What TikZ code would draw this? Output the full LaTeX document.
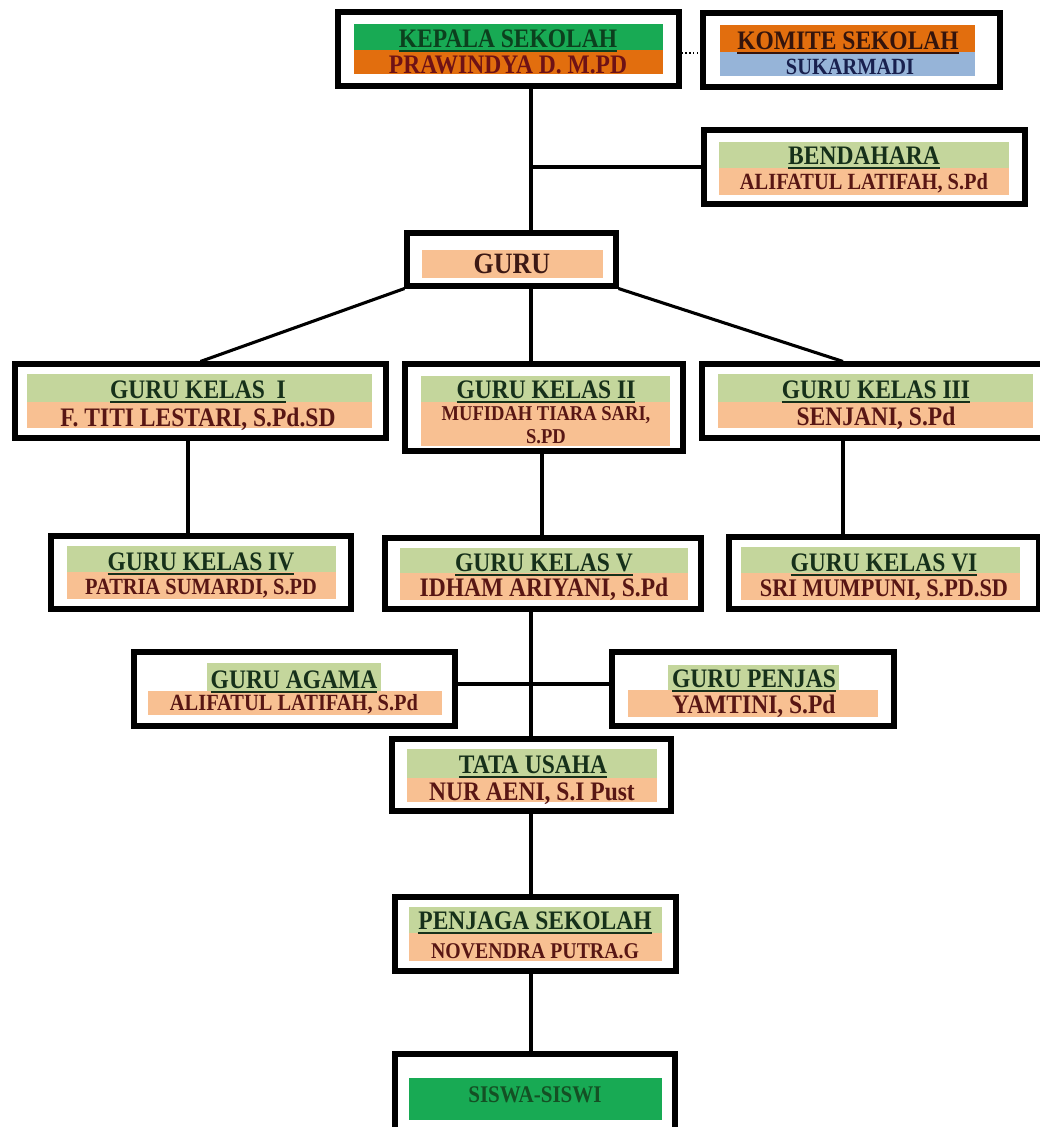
\documentclass[tikz,border=0pt]{standalone}
\usepackage{fontspec}
\setmainfont{Liberation Serif}[FakeStretch=0.88]
\usetikzlibrary{fit}

\definecolor{hijau}{RGB}{24,170,84}
\definecolor{oranye}{RGB}{226,110,14}
\definecolor{biru}{RGB}{150,180,216}
\definecolor{hijaumuda}{RGB}{196,214,156}
\definecolor{krem}{RGB}{248,192,146}
\definecolor{teksjudul}{RGB}{22,48,26}
\definecolor{teksnama}{RGB}{88,22,20}
\definecolor{teksbiru}{RGB}{24,32,78}

\newcommand{\garisbawah}[1]{\setbox0\hbox{#1}\rlap{\rule[-3.4pt]{\wd0}{1.5pt}}\box0}

\tikzset{
  kotak/.style={draw=black, line width=3.6pt, fill=white, inner sep=0pt},
  garis/.style={line width=2.2pt},
  judul/.style={anchor=base, inner sep=0pt, text=teksjudul,
    font=\fontsize{19}{20}\selectfont\bfseries},
  nama/.style={anchor=base, inner sep=0pt, text=teksnama,
    font=\fontsize{19}{20}\selectfont\bfseries},
  kecil/.style={font=\fontsize{16.5}{17}\selectfont\bfseries},
}

\begin{document}
\begin{tikzpicture}[x=0.025cm, y=-0.025cm]

    \useasboundingbox (0,0) rectangle (1040,1127);

    % kotak
    \node[kotak, fit={(338,12) (679,86)}] (kepala) {};
    \node[kotak, fit={(703,13) (1000,87)}] (komite) {};
    \node[kotak, fit={(704,130) (1025,204)}] (bendahara) {};
    \node[kotak, fit={(407,233) (616,286)}] (guru) {};
    \node[kotak, fit={(15,364) (386,438)}] (kelas1) {};
    \node[kotak, fit={(405,364) (683,451)}] (kelas2) {};
    \node[kotak, fit={(702,364) (1052,438)}] (kelas3) {};
    \node[kotak, fit={(51,536) (351,609)}] (kelas4) {};
    \node[kotak, fit={(385,538) (701,609)}] (kelas5) {};
    \node[kotak, fit={(729,537) (1039,609)}] (kelas6) {};
    \node[kotak, fit={(134,652) (455,726)}] (agama) {};
    \node[kotak, fit={(612,652) (894,726)}] (penjas) {};
    \node[kotak, fit={(392,739) (671,811)}] (tata) {};
    \node[kotak, fit={(395,897) (676,971)}] (penjaga) {};
    \node[kotak, fit={(395,1054) (675,1145)}] (siswa) {};

    % pita warna
    \fill[hijau] (354,24) rectangle (663,50);
    \fill[oranye] (354,50) rectangle (663,74);
    \fill[oranye] (720,25) rectangle (975,52);
    \fill[biru] (720,52) rectangle (975,76);
    \fill[hijaumuda] (719,142) rectangle (1009,168);
    \fill[krem] (719,168) rectangle (1009,195);
    \fill[krem] (422,250) rectangle (603,278);
    \fill[hijaumuda] (27,374) rectangle (372,402);
    \fill[krem] (27,402) rectangle (372,428);
    \fill[hijaumuda] (421,376) rectangle (670,402);
    \fill[krem] (421,402) rectangle (670,446);
    \fill[hijaumuda] (718,374) rectangle (1033,402);
    \fill[krem] (718,402) rectangle (1033,428);
    \fill[hijaumuda] (67,546) rectangle (336,572);
    \fill[krem] (67,572) rectangle (336,599);
    \fill[hijaumuda] (400,548) rectangle (688,573);
    \fill[krem] (400,573) rectangle (688,600);
    \fill[hijaumuda] (741,547) rectangle (1020,573);
    \fill[krem] (741,573) rectangle (1020,600);
    \fill[hijaumuda] (207,663) rectangle (381,691);
    \fill[krem] (148,691) rectangle (442,715);
    \fill[hijaumuda] (668,665) rectangle (839,690);
    \fill[krem] (628,690) rectangle (878,717);
    \fill[hijaumuda] (407,749) rectangle (657,778);
    \fill[krem] (407,778) rectangle (657,802);
    \fill[hijaumuda] (409,907) rectangle (662,933);
    \fill[krem] (409,933) rectangle (662,961);
    \fill[hijau] (409,1078) rectangle (662,1120);

    % teks
    \node[judul, text={rgb,255:red,12;green,64;blue,30}] (kepalaJ) at (508,47) {\garisbawah{KEPALA SEKOLAH}};
    \node[nama, text={rgb,255:red,110;green,18;blue,22}] (kepalaN) at (508,73) {PRAWINDYA D. M.PD};
    \node[judul, text={rgb,255:red,52;green,20;blue,12}] (komiteJ) at (848,49) {\garisbawah{KOMITE SEKOLAH}};
    \node[nama, kecil, text=teksbiru] (komiteN) at (850,74) {SUKARMADI};
    \node[judul] (bendaharaJ) at (864,164) {\garisbawah{BENDAHARA}};
    \node[nama, kecil] (bendaharaN) at (864,189) {ALIFATUL LATIFAH, S.Pd};
    \node[nama, font=\fontsize{21}{22}\selectfont\bfseries, text={rgb,255:red,60;green,24;blue,20}] (guruN) at (512,273) {GURU};
    \node[judul] (kelas1J) at (198,398) {\garisbawah{GURU KELAS\ \ I}};
    \node[nama] (kelas1N) at (198,426) {F. TITI LESTARI, S.Pd.SD};
    \node[judul] (kelas2J) at (546,398) {\garisbawah{GURU KELAS II}};
    \node[nama, align=center, font=\fontsize{15}{16}\selectfont\bfseries] (kelas2N) at (546,443) {MUFIDAH TIARA SARI,\\S.PD};
    \node[judul] (kelas3J) at (876,398) {\garisbawah{GURU KELAS III}};
    \node[nama] (kelas3N) at (876,425) {SENJANI, S.Pd};
    \node[judul] (kelas4J) at (201,570) {\garisbawah{GURU KELAS IV}};
    \node[nama, kecil] (kelas4N) at (201,594) {PATRIA SUMARDI, S.PD};
    \node[judul] (kelas5J) at (544,571) {\garisbawah{GURU KELAS V}};
    \node[nama] (kelas5N) at (544,596) {IDHAM ARIYANI, S.Pd};
    \node[judul] (kelas6J) at (884,571) {\garisbawah{GURU KELAS VI}};
    \node[nama, font=\fontsize{18}{19}\selectfont\bfseries] (kelas6N) at (884,596) {SRI MUMPUNI, S.PD.SD};
    \node[judul] (agamaJ) at (294,688) {\garisbawah{GURU AGAMA}};
    \node[nama, kecil] (agamaN) at (294,710) {ALIFATUL LATIFAH, S.Pd};
    \node[judul] (penjasJ) at (754,687) {\garisbawah{GURU PENJAS}};
    \node[nama] (penjasN) at (754,713) {YAMTINI, S.Pd};
    \node[judul] (tataJ) at (533,773) {\garisbawah{TATA USAHA}};
    \node[nama] (tataN) at (532,800) {NUR AENI, S.I Pust};
    \node[judul] (penjagaJ) at (535,929) {\garisbawah{PENJAGA SEKOLAH}};
    \node[nama, font=\fontsize{16}{17}\selectfont\bfseries] (penjagaN) at (535,958) {NOVENDRA PUTRA.G};
    \node[judul, font=\fontsize{17}{18}\selectfont\bfseries, text={rgb,255:red,20;green,80;blue,36}] (siswaN) at (535,1102) {SISWA-SISWI};

    % garis penghubung
    \coordinate (spine) at (531,0);
    \coordinate (lajurA) at (188,0);
    \coordinate (lajurB) at (542,0);
    \coordinate (lajurC) at (843,0);
    \coordinate (cabang) at (0,684);

    \draw[dotted, line width=0.8pt] (kepala.east |- 0,53) -- (komite.west |- 0,53);
    \draw[garis] (kepala.south -| spine) -- (guru.north -| spine);
    \draw[garis] (bendahara.west -| spine) -- (bendahara.west);
    \draw[garis] (guru.south west) -- (kelas1.north);
    \draw[garis] (guru.south -| spine) -- (kelas2.north -| spine);
    \draw[garis] (guru.south east) -- (kelas3.north -| lajurC);
    \draw[garis] (kelas1.south -| lajurA) -- (kelas4.north -| lajurA);
    \draw[garis] (kelas2.south -| lajurB) -- (kelas5.north -| lajurB);
    \draw[garis] (kelas3.south -| lajurC) -- (kelas6.north -| lajurC);
    \draw[garis] (kelas5.south -| spine) -- (tata.north -| spine);
    \draw[garis] (agama.east |- cabang) -- (penjas.west |- cabang);
    \draw[garis] (tata.south -| spine) -- (penjaga.north -| spine);
    \draw[garis] (penjaga.south -| spine) -- (siswa.north -| spine);

\end{tikzpicture}
\end{document}
